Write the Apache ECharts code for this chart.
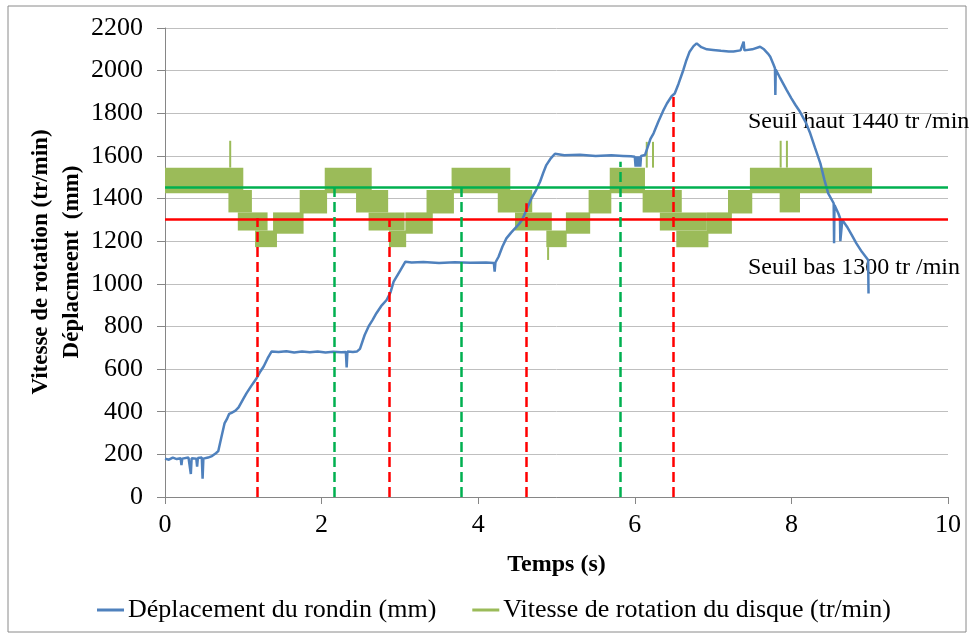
<!DOCTYPE html>
<html>
<head>
<meta charset="utf-8">
<script src="https://cdn.jsdelivr.net/npm/echarts@6/dist/echarts.min.js"></script>
<style>
  html, body { margin: 0; padding: 0; background: #fff; }
  #main { width: 969px; height: 635px; }
</style>
</head>
<body>
<div id="main"></div>
<script>
var myChart = echarts.init(document.getElementById('main'));

// deplacement du rondin (mm) vs temps (s)
var dispTime = [0.00, 0.05, 0.10, 0.15, 0.20, 0.21, 0.22, 0.30, 0.33, 0.34, 0.40, 0.41, 0.42, 0.47, 0.48, 0.49, 0.55, 0.60, 0.65, 0.68,
  0.72, 0.76, 0.79, 0.82, 0.85, 0.90, 0.94, 1.00, 1.04, 1.10, 1.17, 1.22, 1.26, 1.31, 1.36, 1.45, 1.55, 1.65, 1.75, 1.85,
  1.95, 2.05, 2.15, 2.25, 2.31, 2.32, 2.33, 2.40, 2.45, 2.49, 2.55, 2.60, 2.65, 2.70, 2.76, 2.83, 2.88, 2.92, 3.00, 3.07,
  3.15, 3.30, 3.50, 3.70, 3.90, 4.10, 4.20, 4.21, 4.22, 4.26, 4.31, 4.36, 4.42, 4.47, 4.52, 4.56, 4.62, 4.68, 4.74, 4.79,
  4.83, 4.87, 4.93, 4.98, 5.10, 5.30, 5.50, 5.70, 5.85, 5.95, 6.00, 6.01, 6.02, 6.04, 6.05, 6.07, 6.08, 6.13, 6.20, 6.24,
  6.30, 6.36, 6.41, 6.47, 6.51, 6.56, 6.62, 6.66, 6.70, 6.75, 6.79, 6.85, 6.92, 7.00, 7.10, 7.20, 7.26, 7.35, 7.39, 7.40,
  7.50, 7.60, 7.65, 7.70, 7.73, 7.77, 7.79, 7.795, 7.80, 7.85, 7.94, 8.00, 8.05, 8.11, 8.18, 8.24, 8.30, 8.37, 8.42, 8.47,
  8.54, 8.545, 8.55, 8.60, 8.62, 8.625, 8.65, 8.71, 8.77, 8.83, 8.90, 8.98, 8.985];
var dispValue = [180, 175, 185, 178, 182, 150, 180, 185, 108, 182, 180, 142, 183, 185, 86, 180, 185, 192, 205, 215,
  280, 345, 365, 390, 395, 405, 420, 460, 486, 520, 557, 590, 612, 650, 682, 680, 684, 678, 682, 679,
  683, 678, 681, 679, 680, 608, 682, 680, 682, 695, 760, 800, 830, 862, 895, 924, 960, 1010, 1060, 1104,
  1100, 1102, 1098, 1101, 1099, 1100, 1098, 1057, 1100, 1127, 1175, 1213, 1240, 1260, 1280, 1299, 1350, 1401, 1440, 1479,
  1520, 1557, 1590, 1610, 1603, 1605, 1600, 1603, 1600, 1598, 1596, 1550, 1598, 1550, 1598, 1550, 1600, 1604, 1680, 1706,
  1760, 1810, 1846, 1880, 1893, 1940, 2003, 2050, 2089, 2115, 2128, 2110, 2100, 2097, 2093, 2090, 2090, 2095, 2136, 2095,
  2100, 2112, 2100, 2080, 2065, 2030, 2011, 1886, 2005, 1970, 1909, 1870, 1840, 1807, 1760, 1706, 1640, 1565, 1490, 1424,
  1378, 1190, 1370, 1330, 1310, 1200, 1300, 1268, 1230, 1190, 1150, 1112, 955];

// vitesse de rotation du disque (tr/min): oscillating band, one block per step
var speedStart = [0.00, 0.81, 0.93, 1.15, 1.38, 1.72, 2.04,
  2.44, 2.60, 2.86, 3.07, 3.34, 3.66,
  4.25, 4.47, 4.87, 5.12, 5.41, 5.68,
  6.10, 6.32, 6.53, 6.92, 7.19, 7.47, 7.85,
  0.82, 4.88, 6.14, 6.22, 7.85, 7.93];
var speedEnd = [1.00, 1.11, 1.31, 1.43, 1.77, 2.07, 2.64,
  2.85, 3.06, 3.08, 3.42, 3.69, 4.41,
  4.69, 4.94, 5.13, 5.43, 5.70, 6.13,
  6.60, 6.92, 6.94, 7.24, 7.50, 9.03, 8.11,
  0.835, 4.895, 6.155, 6.235, 7.865, 7.945];
var speedLow = [1425, 1335, 1250, 1172, 1235, 1330, 1425,
  1335, 1250, 1172, 1235, 1330, 1425,
  1335, 1250, 1172, 1235, 1330, 1425,
  1335, 1250, 1172, 1235, 1330, 1425, 1335,
  1545, 1112, 1545, 1545, 1545, 1545];
var speedHigh = [1545, 1440, 1335, 1250, 1335, 1440, 1545,
  1440, 1335, 1250, 1335, 1440, 1545,
  1440, 1335, 1250, 1335, 1440, 1545,
  1440, 1335, 1250, 1335, 1440, 1545, 1430,
  1671, 1172, 1666, 1666, 1671, 1671];

// seuils
var seuilHaut = 1455;
var seuilBas = 1305;

// coupes (lignes pointillees)
var redCutTime = [1.175, 2.87, 4.61, 6.49];
var redCutTop = [1307, 1300, 1378, 1886];
var greenCutTime = [2.16, 3.78, 5.81];
var greenCutTop = [1470, 1464, 1573];

var xTicks = [0, 10, 2];
var yTicks = [0, 2200, 200];

var serif = '"Liberation Serif", "Times New Roman", serif';

var dispData = dispTime.map(function (t, i) { return [t, dispValue[i]]; });
var speedData = speedStart.map(function (s, i) { return [s, speedEnd[i], speedLow[i], speedHigh[i]]; });

function cutLines(times, tops) {
  return times.map(function (t, i) {
    return [{ coord: [t, 0] }, { coord: [t, tops[i]] }];
  });
}

var option = {
  animation: false,
  backgroundColor: '#fff',
  grid: { left: 165, right: 21, top: 28, bottom: 138 },
  legend: {
    data: [
      { name: 'Déplacement du rondin (mm)', icon: 'rect' },
      { name: 'Vitesse de rotation du disque (tr/min)', icon: 'rect' }
    ],
    left: 92,
    top: 592,
    itemWidth: 27,
    itemHeight: 3,
    itemGap: 36,
    textStyle: { fontFamily: serif, fontSize: 26, color: '#000', padding: [0, 0, 0, -1] }
  },
  xAxis: {
    type: 'value',
    min: xTicks[0], max: xTicks[1], interval: xTicks[2],
    name: 'Temps (s)',
    nameLocation: 'middle',
    nameGap: 56,
    nameTextStyle: { fontFamily: serif, fontSize: 24, fontWeight: 'bold', color: '#000' },
    axisLine: { lineStyle: { color: '#868686', width: 1 } },
    axisTick: { show: true, length: 7, lineStyle: { color: '#868686' } },
    axisLabel: { fontFamily: serif, fontSize: 26, color: '#000', margin: 15 },
    splitLine: { show: false }
  },
  yAxis: {
    type: 'value',
    min: yTicks[0], max: yTicks[1], interval: yTicks[2],
    axisLine: { show: true, lineStyle: { color: '#868686', width: 1 } },
    axisTick: { show: true, length: 8, lineStyle: { color: '#868686' } },
    axisLabel: {
      fontFamily: serif, fontSize: 26, color: '#000', margin: 22,
      formatter: function (v) { return String(v); }
    },
    splitLine: { lineStyle: { color: '#bfbfbf', width: 1 } }
  },
  graphic: [
    { type: 'rect', shape: { x: 8, y: 6, width: 958, height: 626 }, style: { fill: 'none', stroke: '#8a8a8a', lineWidth: 1 }, silent: true },
    { type: 'text', x: 57, y: 262, rotation: Math.PI / 2,
      style: { text: 'Vitesse de rotation (tr/min)\nDéplacmeent  (mm)', font: 'bold 23px ' + serif, fill: '#000',
        align: 'center', verticalAlign: 'middle', lineHeight: 31 } },
    { type: 'text', x: 748, y: 122, style: { text: 'Seuil haut 1440 tr /min', font: '24px ' + serif, fill: '#000', verticalAlign: 'middle' } },
    { type: 'text', x: 748, y: 268, style: { text: 'Seuil bas 1300 tr /min', font: '24px ' + serif, fill: '#000', verticalAlign: 'middle' } }
  ],
  series: [
    {
      name: 'Vitesse de rotation du disque (tr/min)',
      type: 'custom',
      color: '#9bbb59',
      encode: { x: [0, 1], y: [2, 3] },
      data: speedData,
      renderItem: function (params, api) {
        var p0 = api.coord([api.value(0), api.value(3)]);
        var p1 = api.coord([api.value(1), api.value(2)]);
        return {
          type: 'rect',
          shape: { x: p0[0], y: p0[1], width: Math.max(p1[0] - p0[0], 2), height: p1[1] - p0[1] },
          style: { fill: '#9bbb59' }
        };
      },
      z: 2
    },
    {
      name: 'seuils',
      type: 'line',
      data: [],
      z: 3,
      markLine: {
        silent: true,
        symbol: 'none',
        label: { show: false },
        data: [
          { yAxis: seuilHaut, lineStyle: { color: '#00b050', width: 2.5, type: 'solid' } },
          { yAxis: seuilBas, lineStyle: { color: '#ff0000', width: 2.5, type: 'solid' } }
        ]
      }
    },
    {
      name: 'coupes rouges',
      type: 'line',
      data: [],
      z: 3,
      markLine: {
        silent: true,
        symbol: 'none',
        label: { show: false },
        lineStyle: { color: '#ff0000', width: 2.5, type: [10, 5] },
        data: cutLines(redCutTime, redCutTop)
      }
    },
    {
      name: 'coupes vertes',
      type: 'line',
      data: [],
      z: 3,
      markLine: {
        silent: true,
        symbol: 'none',
        label: { show: false },
        lineStyle: { color: '#00b050', width: 2.5, type: [10, 5] },
        data: cutLines(greenCutTime, greenCutTop)
      }
    },
    {
      name: 'Déplacement du rondin (mm)',
      type: 'line',
      color: '#4f81bd',
      showSymbol: false,
      data: dispData,
      lineStyle: { color: '#4f81bd', width: 2.5 },
      z: 4
    }
  ]
};
myChart.setOption(option);
</script>
</body>
</html>
